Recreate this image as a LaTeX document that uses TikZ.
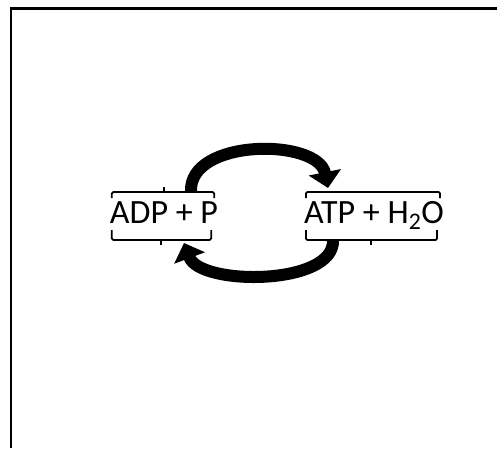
\documentclass[tikz,border=0pt]{standalone}
\usepackage{fontspec}
\setmainfont{Carlito}
\usetikzlibrary{calc,arrows.meta}
\tikzset{
    species/.style={inner sep=0pt, font=\fontsize{34}{40}\selectfont},
    bracket/.style={draw, line width=1.8pt, rounded corners=1.5pt},
    cycle arrow/.style={draw, line width=12pt, -{Triangle[width=32pt,length=16pt]}},
    frame/.style={draw, line width=2.5pt},
}

\begin{document}
\begin{tikzpicture}[x=1pt, y=-1pt]
        \useasboundingbox (0,0) rectangle (497,448);
        \draw[frame] (11,448) -- (11,8.5) -- (497,8.5);

        \node[species, anchor=base] (adp) at (164,223) {ADP + P};
        \node[species, anchor=base] (atp) at (374,223) {ATP + H\textsubscript{2}O};

        % brackets above and below each side
        \foreach \n in {adp,atp} {
            \draw[bracket] ($(\n.base west)+(2,-25)$) -- ($(\n.base west)+(2,-31)$) -- ($(\n.base east)+(-4,-31)$) -- ($(\n.base east)+(-4,-25)$);
            \draw[bracket] ($(\n.base west)+(2,7)$) -- ($(\n.base west)+(2,17)$) -- ($(\n.base east)+(-7,17)$) -- ($(\n.base east)+(-7,7)$);
            \draw[bracket] ($(\n.base)+(-3,17)$) -- ++(0,5);
        }
        \draw[bracket] ($(adp.base)+(0,-31)$) -- ++(0,-5);

        \draw[cycle arrow] ($(adp.base)+(27,-31)$) .. controls +(-3,-54) and +(-10,-50) .. ($(atp.base)+(-46,-35)$);
        \draw[cycle arrow] ($(atp.base)+(-41,17)$) .. controls +(2,46) and +(16,43) .. ($(adp.base)+(20,20)$);
\end{tikzpicture}
\end{document}
